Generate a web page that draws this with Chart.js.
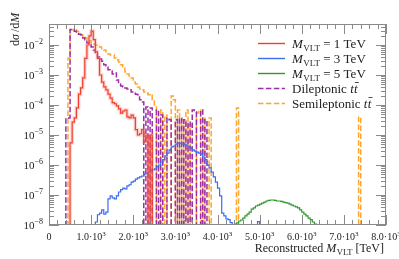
<!DOCTYPE html>
<html>
<head>
<meta charset="utf-8">
<script src="https://cdn.jsdelivr.net/npm/chart.js@4"></script>
<style>
html, body { margin: 0; padding: 0; background: #fff; }
</style>
</head>
<body>
<canvas id="myChart" width="399" height="259"></canvas>
<script>
// histogram bins are 50 GeV wide; empty bins are 0
var binWidth = 50;
var floorValue = 1e-12;

var xTickValues = [0, 1000, 2000, 3000, 4000, 5000, 6000, 7000, 8000];
var xTickLabels = ['0', '1.0', '2.0', '3.0', '4.0', '5.0', '6.0', '7.0', '8.0'];
var yTickExponents = [-8, -7, -6, -5, -4, -3, -2];

// M_VLT = 1 TeV
var redStart = 500;
var redValues = [5.5e-6, 2.7e-5, 3.7e-5, 8e-5, 2.3e-4, 3.7e-4, 8e-4, 3.6e-3, 1e-2, 2e-2,
    2.9e-2, 1.5e-2, 5.9e-3, 3.6e-3, 1e-3, 5.8e-4, 4e-4, 3.2e-4, 2.3e-4, 1.7e-4,
    1.2e-4, 1.1e-4, 9.3e-5, 7.4e-5, 5.4e-5, 6.3e-5, 6.8e-5, 4e-5, 3.7e-5, 4.6e-5,
    3.7e-5, 1.5e-5, 1e-5, 1.1e-5, 1.5e-5, 5.9e-6, 1e-5, 0, 1e-5];

// M_VLT = 3 TeV
var blueStart = 1100;
var blueValues = [1.26e-8, 2.2e-8, 2.5e-8, 3.2e-8, 2.3e-8, 2.7e-8, 7.4e-8, 9.3e-8, 8e-8, 7.4e-8,
    9.3e-8, 1.26e-7, 1.5e-7, 1.7e-7, 1.6e-7, 2e-7, 2.2e-7, 2.7e-7, 2.9e-7, 3.4e-7,
    3.7e-7, 4e-7, 4.3e-7, 5e-7, 5.4e-7, 5.8e-7, 6.3e-7, 6.8e-7, 7.4e-7, 8.6e-7,
    1e-6, 1.26e-6, 1.5e-6, 2e-6, 2.5e-6, 3.2e-6, 4e-6, 4.3e-6, 5e-6, 5.4e-6,
    5.4e-6, 5e-6, 5e-6, 4.6e-6, 4e-6, 3.7e-6, 3.2e-6, 2.9e-6, 2.7e-6, 2.5e-6,
    2.3e-6, 1.85e-6, 1.5e-6, 1e-6, 8e-7, 5.8e-7, 4e-7, 2.7e-7, 1.7e-7, 9.3e-8,
    2.5e-8, 2e-8, 1.6e-8, 1.5e-8, 1.2e-8];
var blueExtraX = [4950];
var blueExtraY = [1.3e-8];

// M_VLT = 5 TeV
var greenStart = 4400;
var greenValues = [1.08e-8, 1.17e-8, 1.36e-8, 1.47e-8, 1.7e-8, 2e-8, 2.3e-8, 2.7e-8, 3.4e-8, 3.7e-8,
    4.3e-8, 4.6e-8, 5e-8, 5.4e-8, 5.8e-8, 6.3e-8, 6.6e-8, 6.8e-8, 6.8e-8, 6.6e-8,
    6.3e-8, 6.3e-8, 6.1e-8, 5.8e-8, 5.6e-8, 5.4e-8, 5e-8, 4.6e-8, 4.3e-8, 4e-8,
    3.7e-8, 3.2e-8, 2.7e-8, 2.3e-8, 2e-8, 1.7e-8, 1.5e-8, 1.26e-8, 1.08e-8];

// dileptonic ttbar
var diStart = 400;
var diValues = [3.7e-5, 3.7e-5, 3.3e-2, 3.3e-2, 2.9e-2, 2.7e-2, 2.3e-2, 2.2e-2, 1.7e-2, 1.5e-2,
    1.17e-2, 1e-2, 8.6e-3, 6.8e-3, 5e-3, 4e-3, 3.4e-3, 2.9e-3, 2.2e-3, 1.85e-3,
    1.5e-3, 1.36e-3, 1.08e-3, 1.17e-3, 6.8e-4, 5e-4, 4.3e-4, 4e-4, 3.7e-4, 3.4e-4,
    3.2e-4, 2.7e-4, 2.7e-4, 2.3e-4, 2.2e-4, 1.5e-4, 1.26e-4, 0, 8.6e-5, 0,
    8e-5, 0, 0, 6.8e-5, 0, 4.6e-5, 0, 0, 3.7e-5, 3.2e-5,
    0, 0, 3.2e-5, 0, 3.7e-5, 0, 3.2e-5, 0, 2.7e-5, 0,
    6.8e-5, 5.8e-5, 0, 0, 6.8e-5, 0, 3.2e-5];

// semileptonic ttbar
var semiStart = 450;
var semiValues = [3.6e-3, 3.2e-2, 3.3e-2, 3.2e-2, 2.9e-2, 2.3e-2, 2.2e-2, 1.85e-2, 1.7e-2, 1.5e-2,
    1.36e-2, 1.17e-2, 1.08e-2, 1e-2, 1e-2, 8.6e-3, 7.4e-3, 6.8e-3, 5.9e-3, 5e-3,
    4.6e-3, 4.6e-3, 3.7e-3, 3.2e-3, 2.7e-3, 2.2e-3, 1.7e-3, 1.26e-3, 1.08e-3, 9.3e-4,
    8e-4, 5.8e-4, 5e-4, 4e-4, 3.4e-4, 3.2e-4, 2.7e-4, 2.5e-4, 2.2e-4, 2.3e-4,
    1.5e-4, 1e-4, 0, 0, 6.8e-5, 0, 4.6e-5, 0, 0, 2e-4,
    1.5e-4, 0, 6.8e-5, 0, 3.2e-5, 0, 6.8e-5, 0, 2.2e-5, 0,
    0, 5.4e-5, 6.8e-5, 0, 3.7e-5, 0, 0, 3.7e-5];
var semiExtraX = [4450, 7350];
var semiExtraY = [8e-5, 4e-5];

var red = '#EE4030', blue = '#3D6CF0', green = '#2E9A2E', purple = '#9B2FA5', orange = '#FFA630';
var serif = '"Liberation Serif", serif';

function histPoints(start, values, extraX, extraY) {
    var pts = [{x: start, y: floorValue}];
    values.forEach(function (v, i) {
        pts.push({x: start + i * binWidth, y: v > 0 ? v : floorValue});
    });
    pts.push({x: start + values.length * binWidth, y: floorValue});
    (extraX || []).forEach(function (x0, i) {
        pts.push({x: x0, y: floorValue});
        pts.push({x: x0, y: extraY[i]});
        pts.push({x: x0 + binWidth, y: floorValue});
    });
    return pts;
}

function line(data, color, width, dash, order) {
    return {
        data: data, borderColor: color, borderWidth: width, borderDash: dash || [],
        stepped: 'before', pointRadius: 0, fill: false, order: order
    };
}

// draws text pieces one after the other, returns width
function drawRich(ctx, parts, x, y) {
    var cx = x;
    parts.forEach(function (p) {
        ctx.font = p.font;
        ctx.fillText(p.text, cx, y + (p.dy || 0));
        cx += ctx.measureText(p.text).width + (p.after || 0);
    });
    return cx - x;
}
function richWidth(ctx, parts) {
    var w = 0;
    parts.forEach(function (p) { ctx.font = p.font; w += ctx.measureText(p.text).width + (p.after || 0); });
    return w;
}

var axesPlugin = {
    id: 'axesPlugin',
    afterDraw: function (chart) {
        var ctx = chart.ctx, a = chart.chartArea;
        var xs = chart.scales.x, ys = chart.scales.y;
        ctx.save();
        ctx.strokeStyle = '#8a8a8a';
        ctx.lineWidth = 1;
        ctx.strokeRect(Math.round(a.left) + 0.5, Math.round(a.top) + 0.5,
            Math.round(a.right - a.left) - 1, Math.round(a.bottom - a.top) - 1);

        ctx.beginPath();
        for (var v = 0; v <= 8000; v += 200) {
            var px = Math.round(xs.getPixelForValue(v)) + 0.5;
            var len = v % 1000 === 0 ? 10 : 5;
            ctx.moveTo(px, a.bottom); ctx.lineTo(px, a.bottom - len);
            ctx.moveTo(px, a.top); ctx.lineTo(px, a.top + len);
        }
        for (var e = -8; e <= -2; e++) {
            for (var k = 1; k <= 9; k++) {
                var val = k * Math.pow(10, e);
                if (val > ys.max) continue;
                var py = Math.round(ys.getPixelForValue(val)) + 0.5;
                var l2 = k === 1 ? 10 : 5;
                ctx.moveTo(a.left, py); ctx.lineTo(a.left + l2, py);
                ctx.moveTo(a.right, py); ctx.lineTo(a.right - l2, py);
            }
        }
        ctx.stroke();

        ctx.fillStyle = '#222';
        ctx.textBaseline = 'alphabetic';
        ctx.textAlign = 'left';
        // x tick labels
        xTickValues.forEach(function (v, i) {
            var parts = i === 0 ? [{text: '0', font: '10px ' + serif}] :
                [{text: xTickLabels[i] + '\u00b710', font: '10px ' + serif},
                 {text: '3', font: '7px ' + serif, dy: -4}];
            var w = richWidth(ctx, parts);
            drawRich(ctx, parts, xs.getPixelForValue(v) - w / 2, 240);
        });
        // y tick labels
        yTickExponents.forEach(function (e) {
            var parts = [{text: '10', font: '11px ' + serif},
                         {text: '\u2212' + (-e), font: '8px ' + serif, dy: -5}];
            var w = richWidth(ctx, parts);
            drawRich(ctx, parts, 43 - w, ys.getPixelForValue(Math.pow(10, e)) + 4);
        });

        // x title
        var xt = [{text: 'Reconstructed ', font: '12px ' + serif},
                  {text: 'M', font: 'italic 12px ' + serif, after: 0.5},
                  {text: 'VLT', font: '8.5px ' + serif, dy: 2.5},
                  {text: ' [TeV]', font: '12px ' + serif}];
        drawRich(ctx, xt, 384 - richWidth(ctx, xt), 252);

        // y title
        ctx.save();
        ctx.translate(19, 46);
        ctx.rotate(-Math.PI / 2);
        drawRich(ctx, [{text: 'd', font: '12px ' + serif},
                       {text: '\u03c3', font: 'italic 12px ' + serif, after: 2},
                       {text: '/d', font: '12px ' + serif},
                       {text: 'M', font: 'italic 12px ' + serif}], 0, 0);
        ctx.restore();

        // legend
        var entries = [
            {color: red, dash: [], mass: '1'},
            {color: blue, dash: [], mass: '3'},
            {color: green, dash: [], mass: '5'},
            {color: purple, dash: [5.5, 2.4], name: 'Dileptonic '},
            {color: orange, dash: [5.5, 2.4], name: 'Semileptonic '}
        ];
        entries.forEach(function (en, i) {
            var y = 43.5 + i * 15;
            ctx.strokeStyle = en.color;
            ctx.lineWidth = 1.4;
            ctx.setLineDash(en.dash);
            ctx.beginPath(); ctx.moveTo(258, y); ctx.lineTo(285, y); ctx.stroke();
            ctx.setLineDash([]);
            ctx.fillStyle = '#222';
            var base = y + 4.5;
            if (en.mass) {
                drawRich(ctx, [{text: 'M', font: 'italic 13px ' + serif, after: 0.5},
                               {text: 'VLT', font: '9px ' + serif, dy: 2.5},
                               {text: ' = ' + en.mass + ' TeV', font: '13px ' + serif}], 292, base);
            } else {
                var w = drawRich(ctx, [{text: en.name, font: '13px ' + serif},
                                       {text: 't', font: 'italic 13px ' + serif, after: 0.3}], 292, base);
                ctx.font = 'italic 13px ' + serif;
                ctx.fillText('t', 292 + w, base);
                var tw = ctx.measureText('t').width;
                ctx.strokeStyle = '#222';
                ctx.lineWidth = 0.8;
                ctx.beginPath();
                ctx.moveTo(292 + w + 0.8, base - 10.5); ctx.lineTo(292 + w + tw + 1.2, base - 10.5);
                ctx.stroke();
            }
        });
        ctx.restore();
    }
};

var ctx = document.getElementById('myChart').getContext('2d');
var myChart = new Chart(ctx, {
    type: 'line',
    data: {
        datasets: [
            line(histPoints(redStart, redValues), 'rgba(245,120,110,0.32)', 3.6, null, 2),
            line(histPoints(redStart, redValues), red, 1.2, null, 1),
            line(histPoints(blueStart, blueValues, blueExtraX, blueExtraY), blue, 1.2, null, 3),
            line(histPoints(greenStart, greenValues), green, 1.2, null, 4),
            line(histPoints(diStart, diValues), purple, 1.5, [5.5, 2.4], 5),
            line(histPoints(semiStart, semiValues, semiExtraX, semiExtraY), orange, 1.5, [5.5, 2.4], 6)
        ]
    },
    options: {
        responsive: false,
        animation: false,
        layout: { padding: { left: 49, right: 13, top: 24, bottom: 34 } },
        plugins: { legend: { display: false }, tooltip: { enabled: false } },
        scales: {
            x: { type: 'linear', min: 0, max: 8000, display: false },
            y: { type: 'logarithmic', min: 1e-8, max: Math.pow(10, -1.3), display: false }
        }
    },
    plugins: [axesPlugin]
});
</script>
</body>
</html>
